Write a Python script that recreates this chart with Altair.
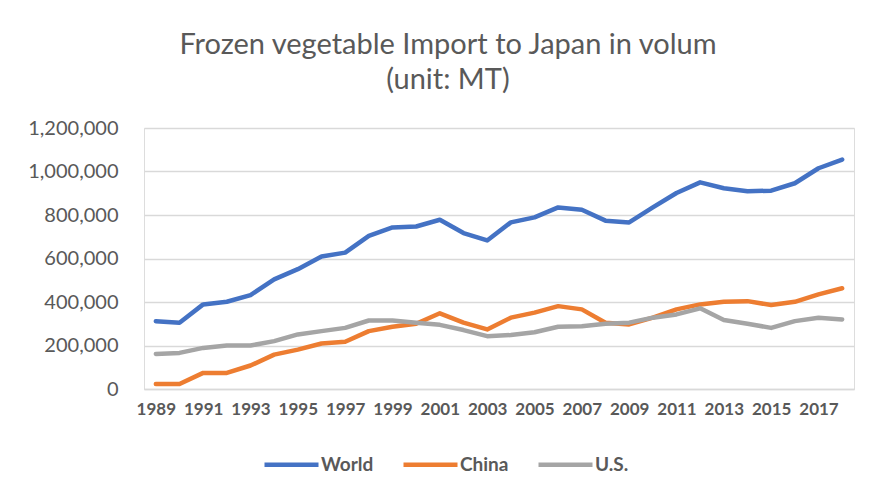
import altair as alt
import pandas as pd

years = list(range(1989, 2019))
world = [312000, 305000, 389000, 401000, 432000, 504000, 551000, 609000, 627000, 704000,
         743000, 747000, 778000, 717000, 683000, 766000, 789000, 835000, 824000, 774000,
         766000, 835000, 901000, 950000, 923000, 909000, 912000, 946000, 1015000, 1055000]
china = [23000, 23000, 74000, 74000, 108000, 158000, 181000, 209000, 217000, 266000,
         286000, 300000, 348000, 305000, 274000, 328000, 351000, 381000, 366000, 305000,
         297000, 328000, 366000, 389000, 401000, 404000, 386000, 401000, 435000, 463000]
us = [161000, 166000, 189000, 200000, 200000, 220000, 251000, 266000, 281000, 315000,
      315000, 305000, 295000, 271000, 243000, 248000, 261000, 286000, 289000, 300000,
      305000, 328000, 343000, 371000, 317000, 300000, 281000, 312000, 328000, 320000]
series_names = ["World", "China", "U.S."]
colors = ["#4472C4", "#ED7D31", "#A5A5A5"]
x_tick_years = list(range(1989, 2018, 2))
y_ticks = [0, 200000, 400000, 600000, 800000, 1000000, 1200000]

rows = []
for name, vals in zip(series_names, [world, china, us]):
    for y, v in zip(years, vals):
        rows.append({"Year": y, "Series": name, "Value": v})
df = pd.DataFrame(rows)

chart = alt.Chart(df).mark_line(strokeWidth=4.5, strokeCap="round", strokeJoin="round").encode(
    x=alt.X("Year:Q",
            scale=alt.Scale(domain=[1988.5, 2018.5], nice=False, zero=False),
            axis=alt.Axis(values=x_tick_years, format="d", title=None, grid=False,
                          ticks=False, domain=True, domainColor="#d9d9d9", domainWidth=1.5,
                          labelFont="Lato", labelFontWeight="bold", labelFontSize=17,
                          labelColor="#595959", labelPadding=12, labelFlush=False,
                          labelOverlap=False)),
    y=alt.Y("Value:Q",
            scale=alt.Scale(domain=[0, 1200000], nice=False),
            axis=alt.Axis(values=y_ticks, format=",.0f", title=None, grid=True,
                          gridColor="#d9d9d9", gridWidth=1.5, ticks=False, domain=False,
                          labelFont="Lato", labelFontSize=20, labelColor="#595959",
                          labelPadding=26)),
    color=alt.Color("Series:N",
                    scale=alt.Scale(domain=series_names, range=colors),
                    sort=series_names,
                    legend=alt.Legend(title=None, orient="none", direction="horizontal",
                                      legendX=118, legendY=307,
                                      symbolType="stroke", symbolSize=2916,
                                      symbolStrokeWidth=4.5,
                                      labelFont="Lato", labelFontWeight="bold",
                                      labelFontSize=19, labelColor="#595959",
                                      labelOffset=0, columnPadding=20)),
).properties(
    width=710,
    height=261,
    title=alt.TitleParams(
        text=["Frozen vegetable Import to Japan in volum", "(unit: MT)"],
        font="Lato", fontSize=29, fontWeight="normal", color="#595959",
        anchor="middle", dx=-51, offset=23, lineHeight=35),
    autosize=alt.AutoSizeParams(type="none"),
    padding={"left": 136, "top": 120, "right": 16, "bottom": 90},
).configure_view(stroke=None).configure(background="white")

chart.save("out.html", embed_options={"renderer": "svg", "actions": False})
